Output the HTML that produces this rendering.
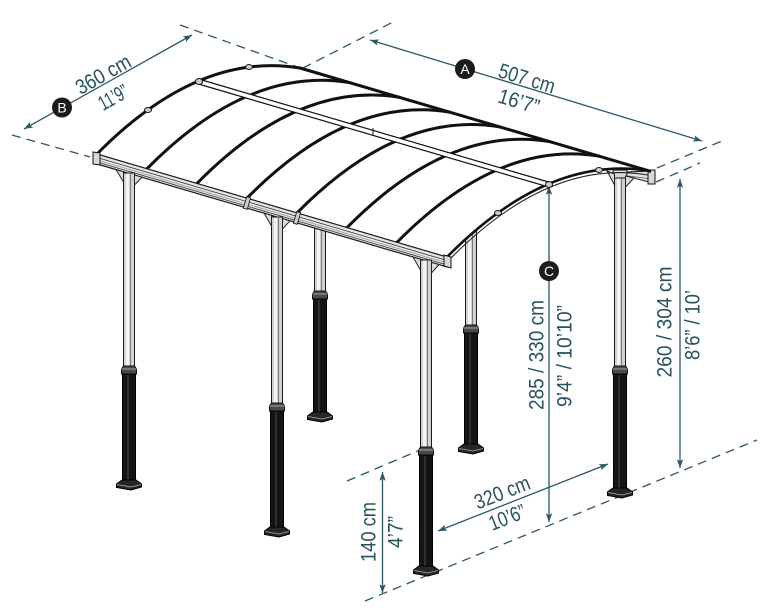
<!DOCTYPE html>
<html>
<head>
<meta charset="utf-8">
<style>
html,body{margin:0;padding:0;background:#fff;width:775px;height:615px;overflow:hidden}
svg{display:block}
.dim{stroke:#2b5866;stroke-width:1.3;fill:none}
.dash{stroke:#2b5866;stroke-width:1.3;fill:none;stroke-dasharray:9 6}
.t{font-family:"Liberation Sans",sans-serif;font-size:21px;fill:#27525e;text-anchor:middle}
.c{font-family:"Liberation Sans",sans-serif;font-size:14px;fill:#fff;text-anchor:middle}
.arch{stroke:#111;stroke-width:3;fill:none;stroke-linecap:round}
</style>
</head>
<body>
<svg width="775" height="615" viewBox="0 0 775 615" xmlns="http://www.w3.org/2000/svg">
<defs>
<marker id="ah" viewBox="0 0 10 8" refX="10" refY="4" markerWidth="10" markerHeight="7" markerUnits="userSpaceOnUse" orient="auto-start-reverse">
<path d="M0,0.3 L10,4 L0,7.7 L2.2,4 Z" fill="#2b5866"/>
</marker>
</defs>

<!-- extension / dashed lines -->
<line class="dash" x1="180" y1="25" x2="303" y2="69"/>
<line class="dash" x1="12" y1="135" x2="90" y2="157"/>
<line class="dash" x1="303" y1="68" x2="395" y2="21"/>
<line class="dash" x1="657" y1="168" x2="722" y2="141"/>
<line class="dash" x1="656" y1="182" x2="700" y2="163"/>
<line class="dash" x1="347" y1="481" x2="420" y2="450"/>
<line class="dash" x1="365" y1="601" x2="757" y2="440"/>

<!-- dimension lines -->
<line class="dim" x1="370" y1="40" x2="702" y2="141" marker-start="url(#ah)" marker-end="url(#ah)"/>
<line class="dim" x1="24" y1="129" x2="192" y2="35" marker-start="url(#ah)" marker-end="url(#ah)"/>
<line class="dim" x1="549" y1="186" x2="549" y2="522" marker-start="url(#ah)" marker-end="url(#ah)"/>
<line class="dim" x1="680" y1="179" x2="680" y2="468" marker-start="url(#ah)" marker-end="url(#ah)"/>
<line class="dim" x1="382.5" y1="472" x2="382.5" y2="593" marker-start="url(#ah)" marker-end="url(#ah)"/>
<line class="dim" x1="438" y1="531" x2="608" y2="464" marker-start="url(#ah)" marker-end="url(#ah)"/>

<!-- back posts -->
<g transform="translate(320,0)">
<rect x="-5.5" y="222" width="11" height="69" fill="#d2d2d2" stroke="#1a1a1a"/>
<rect x="-3" y="222.5" width="3" height="68" fill="#f4f4f4"/>
<line x1="1.5" y1="222" x2="1.5" y2="291" stroke="#666" stroke-width=".8"/>
<polygon points="-5.5,291 5.5,291 7.5,294 7.5,299 -7.5,299 -7.5,294" fill="#4a4a4a" stroke="#111"/>
<line x1="-7.5" y1="294" x2="7.5" y2="294" stroke="#bbb" stroke-width=".8"/>
<rect x="-6.5" y="299" width="13" height="113" fill="#141414" stroke="#000"/>
<line x1="-1" y1="300" x2="-1" y2="412" stroke="#5a5a5a" stroke-width=".8"/>
<polygon points="-7,412 7,412 12.5,416 12.5,419 2,422 -12.5,419.5 -12.5,416" fill="#262626" stroke="#000"/>
<polyline points="-12,416.5 2,419 12,416.5" stroke="#aaa" stroke-width=".8" fill="none"/>
</g>
<g transform="translate(471,0)">
<rect x="-5.5" y="200" width="11" height="125" fill="#d2d2d2" stroke="#1a1a1a"/>
<rect x="-3" y="200.5" width="3" height="124" fill="#f4f4f4"/>
<line x1="1.5" y1="200" x2="1.5" y2="325" stroke="#666" stroke-width=".8"/>
<polygon points="-5.5,325 5.5,325 7.5,328 7.5,333 -7.5,333 -7.5,328" fill="#4a4a4a" stroke="#111"/>
<line x1="-7.5" y1="328" x2="7.5" y2="328" stroke="#bbb" stroke-width=".8"/>
<rect x="-6.5" y="333" width="13" height="111" fill="#141414" stroke="#000"/>
<line x1="-1" y1="334" x2="-1" y2="444" stroke="#5a5a5a" stroke-width=".8"/>
<polygon points="-7,444 7,444 12.5,448 12.5,451 2,454 -12.5,451.5 -12.5,448" fill="#262626" stroke="#000"/>
<polyline points="-12,448.5 2,451 12,448.5" stroke="#aaa" stroke-width=".8" fill="none"/>
</g>
<g transform="translate(620,0)">
<rect x="-5.5" y="172" width="11" height="194" fill="#d2d2d2" stroke="#1a1a1a"/>
<rect x="-3" y="172.5" width="3" height="193" fill="#f4f4f4"/>
<line x1="1.5" y1="172" x2="1.5" y2="366" stroke="#666" stroke-width=".8"/>
<polygon points="-5.5,366 5.5,366 7.5,369 7.5,374 -7.5,374 -7.5,369" fill="#4a4a4a" stroke="#111"/>
<line x1="-7.5" y1="369" x2="7.5" y2="369" stroke="#bbb" stroke-width=".8"/>
<rect x="-6.5" y="374" width="13" height="114" fill="#141414" stroke="#000"/>
<line x1="-1" y1="375" x2="-1" y2="488" stroke="#5a5a5a" stroke-width=".8"/>
<polygon points="-7,488 7,488 12.5,492 12.5,495 2,498 -12.5,495.5 -12.5,492" fill="#262626" stroke="#000"/>
<polyline points="-12,492.5 2,495 12,492.5" stroke="#aaa" stroke-width=".8" fill="none"/>
</g>

<!-- back-right beam end + bracket -->
<polygon points="626,172 653,171 653,183 626,176" fill="#e2e2e2" stroke="#1a1a1a" stroke-width="1"/>
<line x1="628" y1="176" x2="652" y2="179" stroke="#555" stroke-width=".8"/>
<rect x="648" y="170" width="7" height="14" fill="#d8d8d8" stroke="#111" stroke-width="1"/>
<rect x="613" y="170" width="14" height="8" fill="#d8d8d8" stroke="#111" stroke-width="1"/>
<polygon points="614.5,174 607,171 614.5,185" fill="#dcdcdc" stroke="#222" stroke-width="1"/>
<polygon points="625.5,176 634,178 625.5,187" fill="#dcdcdc" stroke="#222" stroke-width="1"/>

<!-- roof fill -->
<path d="M97,154 L447,257 Q548.5,154 650,171 L300,68 Q198.5,51 97,154 Z" fill="#fff"/>

<!-- back eave -->
<line x1="300" y1="68" x2="651" y2="171.5" stroke="#111" stroke-width="3"/>

<!-- arches -->
<path class="arch" d="M97,154 Q198.5,51 300,68"/>
<path class="arch" d="M147,168.7 Q248.5,65.7 350,82.7"/>
<path class="arch" d="M197,183.4 Q298.5,80.4 400,97.4"/>
<path class="arch" d="M247,198.1 Q348.5,95.1 450,112.1"/>
<path class="arch" d="M297,212.9 Q398.5,109.9 500,126.9"/>
<path class="arch" d="M347,227.6 Q448.5,124.6 550,141.6"/>
<path class="arch" d="M397,242.3 Q498.5,139.3 600,156.3"/>
<path d="M447,257 Q548.5,154 650,171" stroke="#111" stroke-width="2.6" fill="none"/>
<path d="M448,261 Q548.5,158 648,175" stroke="#222" stroke-width="1.1" fill="none"/>

<!-- ridge purlin -->
<polygon points="198.5,79 548.5,182 548.5,187 198.5,84" fill="#fff" stroke="#111" stroke-width="1.2"/>
<line x1="373" y1="128" x2="373" y2="135" stroke="#111" stroke-width="1"/>

<!-- clips -->
<ellipse cx="148" cy="110" rx="3.5" ry="2.5" fill="#ccc" stroke="#111"/>
<ellipse cx="249" cy="67" rx="3.5" ry="2.5" fill="#ccc" stroke="#111"/>
<ellipse cx="199" cy="81.5" rx="3.5" ry="3" fill="#ccc" stroke="#111"/>
<ellipse cx="498" cy="213" rx="3.5" ry="2.5" fill="#ccc" stroke="#111"/>
<ellipse cx="599" cy="170" rx="3.5" ry="2.5" fill="#ccc" stroke="#111"/>
<ellipse cx="549" cy="184.5" rx="3.5" ry="3" fill="#ccc" stroke="#111"/>

<!-- front beam -->
<polygon points="97,154 447,257 447,267 97,164" fill="#e6e6e6" stroke="#1a1a1a" stroke-width="1.2"/>
<line x1="97" y1="157.5" x2="447" y2="260.5" stroke="#333" stroke-width=".8"/>
<line x1="97" y1="160" x2="447" y2="263" stroke="#999" stroke-width=".8"/>
<line x1="97" y1="162" x2="447" y2="265" stroke="#333" stroke-width=".8"/>
<rect x="245" y="197" width="4" height="12" fill="#ccc" stroke="#111" stroke-width=".8" transform="rotate(16.4 247 203)"/>
<rect x="295" y="212" width="4" height="12" fill="#ccc" stroke="#111" stroke-width=".8" transform="rotate(16.4 297 218)"/>
<polygon points="93,152 100,153 100,165 93,164" fill="#d8d8d8" stroke="#111" stroke-width="1"/>
<polygon points="444,255 451,257 451,268 444,266" fill="#d8d8d8" stroke="#111" stroke-width="1"/>

<!-- front posts -->
<g transform="translate(129,0)">
<rect x="-5.5" y="173" width="11" height="193" fill="#d2d2d2" stroke="#1a1a1a"/>
<rect x="-3" y="173.5" width="3" height="192" fill="#f4f4f4"/>
<line x1="1.5" y1="173" x2="1.5" y2="366" stroke="#666" stroke-width=".8"/>
<polygon points="-5.5,366 5.5,366 7.5,369 7.5,374 -7.5,374 -7.5,369" fill="#4a4a4a" stroke="#111"/>
<line x1="-7.5" y1="369" x2="7.5" y2="369" stroke="#bbb" stroke-width=".8"/>
<rect x="-6.5" y="374" width="13" height="106" fill="#141414" stroke="#000"/>
<line x1="-1" y1="375" x2="-1" y2="480" stroke="#5a5a5a" stroke-width=".8"/>
<polygon points="-7,480 7,480 12.5,484 12.5,487 2,490 -12.5,487.5 -12.5,484" fill="#262626" stroke="#000"/>
<polyline points="-12,484.5 2,487 12,484.5" stroke="#aaa" stroke-width=".8" fill="none"/>
</g>
<polygon points="123.5,171.8 116,169.6 123.5,182" fill="#dcdcdc" stroke="#222" stroke-width="1"/>
<polygon points="134.5,175 142,177.2 134.5,185" fill="#dcdcdc" stroke="#222" stroke-width="1"/>

<g transform="translate(277,0)">
<rect x="-5.5" y="217" width="11" height="186" fill="#d2d2d2" stroke="#1a1a1a"/>
<rect x="-3" y="217.5" width="3" height="185" fill="#f4f4f4"/>
<line x1="1.5" y1="217" x2="1.5" y2="403" stroke="#666" stroke-width=".8"/>
<polygon points="-5.5,403 5.5,403 7.5,406 7.5,411 -7.5,411 -7.5,406" fill="#4a4a4a" stroke="#111"/>
<line x1="-7.5" y1="406" x2="7.5" y2="406" stroke="#bbb" stroke-width=".8"/>
<rect x="-6.5" y="411" width="13" height="116" fill="#141414" stroke="#000"/>
<line x1="-1" y1="412" x2="-1" y2="527" stroke="#5a5a5a" stroke-width=".8"/>
<polygon points="-7,527 7,527 12.5,531 12.5,534 2,537 -12.5,534.5 -12.5,531" fill="#262626" stroke="#000"/>
<polyline points="-12,531.5 2,534 12,531.5" stroke="#aaa" stroke-width=".8" fill="none"/>
</g>
<polygon points="271.5,215.4 264,213.1 271.5,226" fill="#dcdcdc" stroke="#222" stroke-width="1"/>
<polygon points="282.5,218.6 290,220.8 282.5,229" fill="#dcdcdc" stroke="#222" stroke-width="1"/>

<g transform="translate(426,0)">
<rect x="-5.5" y="260" width="11" height="187" fill="#d2d2d2" stroke="#1a1a1a"/>
<rect x="-3" y="260.5" width="3" height="186" fill="#f4f4f4"/>
<line x1="1.5" y1="260" x2="1.5" y2="447" stroke="#666" stroke-width=".8"/>
<polygon points="-5.5,447 5.5,447 7.5,450 7.5,455 -7.5,455 -7.5,450" fill="#4a4a4a" stroke="#111"/>
<line x1="-7.5" y1="450" x2="7.5" y2="450" stroke="#bbb" stroke-width=".8"/>
<rect x="-6.5" y="455" width="13" height="111" fill="#141414" stroke="#000"/>
<line x1="-1" y1="456" x2="-1" y2="566" stroke="#5a5a5a" stroke-width=".8"/>
<polygon points="-7,566 7,566 12.5,570 12.5,573 2,576 -12.5,573.5 -12.5,570" fill="#262626" stroke="#000"/>
<polyline points="-12,570.5 2,573 12,570.5" stroke="#aaa" stroke-width=".8" fill="none"/>
</g>
<polygon points="420.5,259.2 413,257 420.5,270" fill="#dcdcdc" stroke="#222" stroke-width="1"/>
<polygon points="431.5,262.4 439,264.6 431.5,273" fill="#dcdcdc" stroke="#222" stroke-width="1"/>

<!-- labels -->
<circle cx="465" cy="69" r="10" fill="#1c1c1c"/>
<text class="c" x="465" y="74">A</text>
<circle cx="62" cy="107.5" r="10" fill="#1c1c1c"/>
<text class="c" x="62" y="112.5">B</text>
<circle cx="549" cy="271" r="10" fill="#1c1c1c"/>
<text class="c" x="549" y="276">C</text>

<text class="t" transform="translate(527,78) rotate(16.9)" x="0" y="7.5" textLength="58" lengthAdjust="spacingAndGlyphs">507 cm</text>
<text class="t" transform="translate(519,101) rotate(16.9)" x="0" y="7.5" textLength="42" lengthAdjust="spacingAndGlyphs">16’7”</text>

<text class="t" transform="translate(103,74) rotate(-29.2)" x="0" y="7.5" textLength="60" lengthAdjust="spacingAndGlyphs">360 cm</text>
<text class="t" transform="translate(113,97) rotate(-29.2)" x="0" y="7.5" textLength="31" lengthAdjust="spacingAndGlyphs">11’9”</text>

<text class="t" transform="translate(502,492) rotate(-21.5)" x="0" y="7.5" textLength="58" lengthAdjust="spacingAndGlyphs">320 cm</text>
<text class="t" transform="translate(507,517) rotate(-21.5)" x="0" y="7.5" textLength="38" lengthAdjust="spacingAndGlyphs">10’6”</text>

<text class="t" transform="translate(536,355) rotate(-90)" x="0" y="7.5" textLength="110" lengthAdjust="spacingAndGlyphs">285 / 330 cm</text>
<text class="t" transform="translate(564,356) rotate(-90)" x="0" y="7.5" textLength="102" lengthAdjust="spacingAndGlyphs">9’4” / 10’10”</text>

<text class="t" transform="translate(664,322) rotate(-90)" x="0" y="7.5" textLength="111" lengthAdjust="spacingAndGlyphs">260 / 304 cm</text>
<text class="t" transform="translate(692,325) rotate(-90)" x="0" y="7.5" textLength="70" lengthAdjust="spacingAndGlyphs">8’6” / 10’</text>

<text class="t" transform="translate(368,532) rotate(-90)" x="0" y="7.5" textLength="60" lengthAdjust="spacingAndGlyphs">140 cm</text>
<text class="t" transform="translate(395,532) rotate(-90)" x="0" y="7.5" textLength="32" lengthAdjust="spacingAndGlyphs">4’7”</text>
</svg>
</body>
</html>
